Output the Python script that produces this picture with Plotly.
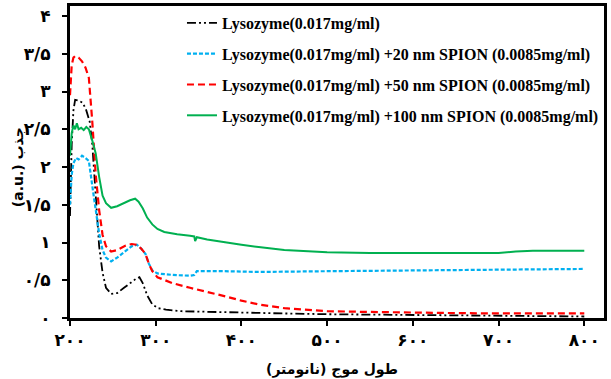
import plotly.graph_objects as go

# ---- data ----
lyso_x = [200, 202, 204, 206, 210, 215, 219, 223, 226, 230, 234, 238, 242, 248, 255, 263, 270, 277, 281, 285, 290, 296, 303, 312, 330, 360, 400, 450, 500, 550, 600, 650, 700, 750, 800]
lyso_y = [1.35, 2.3, 2.75, 2.89, 2.88, 2.85, 2.75, 2.6, 2.3, 1.65, 0.95, 0.6, 0.4, 0.32, 0.33, 0.40, 0.46, 0.52, 0.54, 0.46, 0.3, 0.18, 0.13, 0.11, 0.09, 0.08, 0.07, 0.06, 0.05, 0.045, 0.04, 0.035, 0.03, 0.025, 0.02]

s20_x = [200, 202, 204, 207, 210, 214, 218, 222, 226, 230, 234, 238, 242, 248, 255, 265, 272, 278, 283, 288, 292, 296, 302, 320, 340, 345, 348, 380, 420, 500, 600, 700, 800]
s20_y = [1.5, 1.9, 2.05, 2.12, 2.10, 2.15, 2.12, 2.08, 1.75, 1.43, 1.12, 0.9, 0.8, 0.75, 0.80, 0.89, 0.95, 0.97, 0.92, 0.85, 0.72, 0.63, 0.59, 0.57, 0.56, 0.57, 0.62, 0.62, 0.61, 0.62, 0.63, 0.64, 0.65]

s50_x = [200, 202, 204, 206, 210, 214, 218, 222, 226, 230, 234, 238, 242, 248, 255, 265, 272, 278, 283, 288, 292, 296, 302, 320, 340, 360, 380, 400, 420, 450, 480, 500, 550, 600, 650, 700, 750, 800]
s50_y = [2.95, 3.35, 3.45, 3.47, 3.45, 3.40, 3.32, 3.18, 2.6, 1.9, 1.43, 1.1, 0.95, 0.88, 0.90, 0.96, 0.98, 0.97, 0.92, 0.85, 0.72, 0.62, 0.54, 0.46, 0.40, 0.35, 0.29, 0.23, 0.18, 0.13, 0.10, 0.09, 0.08, 0.07, 0.065, 0.06, 0.06, 0.06]

s100_x = [200, 202, 204, 206, 208, 210, 213, 216, 219, 222, 226, 230, 234, 238, 242, 248, 255, 262, 270, 276, 280, 285, 290, 296, 302, 310, 325, 340, 345, 346, 348, 360, 380, 400, 420, 450, 500, 550, 600, 650, 700, 720, 740, 770, 800]
s100_y = [2.15, 2.45, 2.55, 2.50, 2.58, 2.50, 2.52, 2.49, 2.53, 2.50, 2.35, 2.18, 1.87, 1.62, 1.52, 1.46, 1.48, 1.52, 1.56, 1.58, 1.54, 1.45, 1.33, 1.24, 1.18, 1.14, 1.11, 1.09, 1.08, 1.02, 1.07, 1.04, 1.0, 0.97, 0.94, 0.90, 0.87, 0.86, 0.86, 0.86, 0.86, 0.88, 0.89, 0.89, 0.89]

names = [
    "Lysozyme(0.017mg/ml)",
    "Lysozyme(0.017mg/ml) +20 nm SPION (0.0085mg/ml)",
    "Lysozyme(0.017mg/ml) +50 nm SPION (0.0085mg/ml)",
    "Lysozyme(0.017mg/ml) +100 nm SPION (0.0085mg/ml)",
]

x_tickvals = [200, 300, 400, 500, 600, 700, 800]
x_ticktext = ["۲۰۰", "۳۰۰", "۴۰۰", "۵۰۰", "۶۰۰", "۷۰۰", "۸۰۰"]
y_tickvals = [0, 0.5, 1, 1.5, 2, 2.5, 3, 3.5, 4]
y_ticktext = ["۰", "۰/۵", "۱", "۱/۵", "۲", "۲/۵", "۳", "۳/۵", "۴"]

x_title = "طول موج (نانومتر)"
y_title_word, y_title_unit = "جذب", "(a.u.)"

RLE, LRE, PDF = "\u202B", "\u202A", "\u202C"
# both titles displayed right-to-left, as in the reference
x_title_txt = RLE + x_title + PDF
y_title_txt = RLE + y_title_word + " " + LRE + y_title_unit + PDF + PDF

# ---- figure ----
fig = go.Figure()
series = [
    (lyso_x, lyso_y, "#000000", "9px,3px,2px,3px,2px,3px", 1.8),
    (s20_x, s20_y, "#00B0F0", "4px,2px", 2.2),
    (s50_x, s50_y, "#FF0000", "7px,4px", 2.2),
    (s100_x, s100_y, "#00B050", "solid", 2.0),
]
for i, (xs, ys, col, dash, w) in enumerate(series):
    fig.add_trace(go.Scatter(
        x=xs, y=ys, mode="lines", name=names[i], legendgroup=f"g{i}",
        line=dict(color=col, dash=dash, width=w),
    ))

tickfont = dict(family="DejaVu Sans", size=17, color="black", weight="bold")
titlefont = dict(family="DejaVu Sans", size=14, color="black", weight="bold")

fig.update_layout(
    width=611, height=379,
    margin=dict(l=70, r=7, t=6, b=61, autoexpand=False),
    paper_bgcolor="white", plot_bgcolor="white",
    showlegend=True,
    legend=dict(
        x=0.2097, y=1.0, xanchor="left", yanchor="top",
        bgcolor="rgba(0,0,0,0)", borderwidth=0,
        font=dict(family="Liberation Serif", size=16, color="black", weight="bold"),
        tracegroupgap=7,
    ),
    annotations=[
        dict(text=x_title_txt, xref="paper", yref="paper", x=0.49, y=-0.165,
             xanchor="center", yanchor="middle", showarrow=False, font=titlefont),
        dict(text=y_title_txt, xref="paper", yref="paper", x=-0.097, y=0.484,
             xanchor="center", yanchor="middle", showarrow=False, textangle=-90, font=titlefont),
    ],
)
fig.update_xaxes(
    range=[200, 823], tickvals=x_tickvals, ticktext=x_ticktext,
    showgrid=False, zeroline=False, showline=True, linecolor="black", linewidth=3,
    mirror=True, ticks="outside", ticklen=5, tickwidth=2, tickcolor="black",
    tickfont=tickfont,
)
fig.update_yaxes(
    range=[0, 4.133], tickvals=y_tickvals, ticktext=y_ticktext,
    showgrid=False, zeroline=False, showline=True, linecolor="black", linewidth=3,
    mirror=True, ticks="outside", ticklen=5, tickwidth=2, tickcolor="black",
    tickfont=tickfont, ticklabelstandoff=8,
)

fig.write_html("out.html")
